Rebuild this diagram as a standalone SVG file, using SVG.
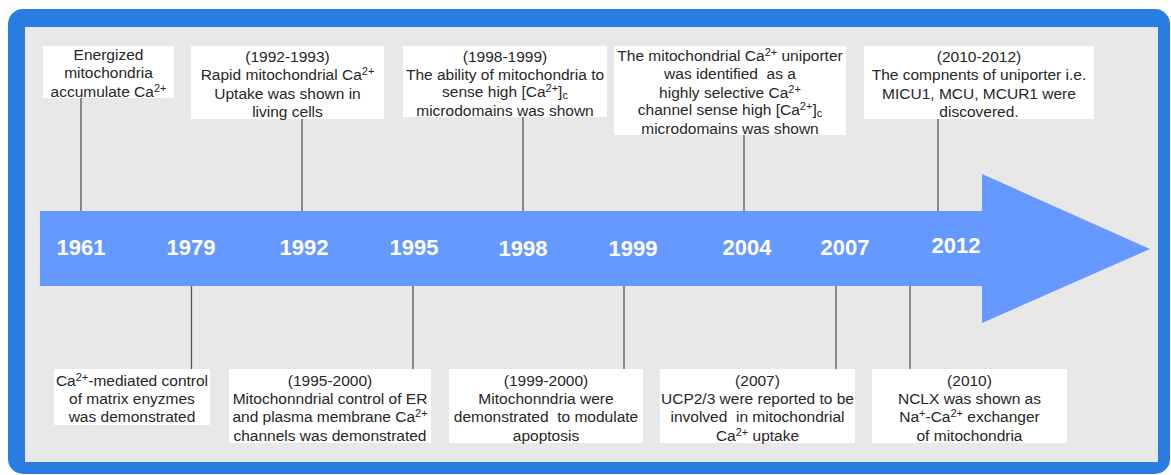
<svg xmlns="http://www.w3.org/2000/svg" width="1171" height="475" viewBox="0 0 1171 475">
<style>
.box{fill:#ffffff}
.t{font-family:"Liberation Sans",Arial,sans-serif;font-size:15.5px;fill:#262626;text-anchor:middle}
.yr{font-family:"Liberation Sans",Arial,sans-serif;font-size:22px;font-weight:bold;fill:#ffffff;text-anchor:middle}
.c{stroke:#555555;stroke-width:1.3;fill:none}
.s{font-size:11px}
</style>
<rect x="8" y="9" width="1162" height="465" rx="15" fill="#2a7de1"/>
<rect x="25" y="27" width="1133" height="435" fill="#e8e8e8"/>
<g id="connectors">
<line class="c" x1="81" y1="98" x2="81" y2="211"/>
<line class="c" x1="302" y1="119" x2="302" y2="211"/>
<line class="c" x1="523" y1="117" x2="523" y2="211"/>
<line class="c" x1="744" y1="135" x2="744" y2="211"/>
<line class="c" x1="938" y1="119" x2="938" y2="211"/>
<line class="c" x1="191.5" y1="286" x2="191.5" y2="369"/>
<line class="c" x1="413" y1="286" x2="413" y2="369"/>
<line class="c" x1="624" y1="286" x2="624" y2="369"/>
<line class="c" x1="836" y1="286" x2="836" y2="369"/>
<line class="c" x1="910" y1="286" x2="910" y2="369"/>
</g>
<g id="timeline">
<polygon points="40,211 982,211 982,174 1150,249 982,323 982,286 40,286" fill="#6699ff"/>
<text class="yr" x="81" y="255">1961</text>
<text class="yr" x="191" y="255">1979</text>
<text class="yr" x="304" y="255">1992</text>
<text class="yr" x="414" y="255">1995</text>
<text class="yr" x="523" y="256">1998</text>
<text class="yr" x="633" y="256">1999</text>
<text class="yr" x="747" y="255">2004</text>
<text class="yr" x="845" y="255">2007</text>
<text class="yr" x="956" y="253">2012</text>
</g>
<g id="n1961">
<rect class="box" x="43" y="46" width="131" height="52"/>
<text class="t" x="108.5" y="59.5">Energized</text>
<text class="t" x="108.5" y="78">mitochondria</text>
<text class="t" x="108.5" y="97">accumulate Ca<tspan class="s" baseline-shift="5">2+</tspan></text>
</g>
<g id="n1992">
<rect class="box" x="191" y="46" width="193" height="73"/>
<text class="t" x="287.5" y="62">(1992-1993)</text>
<text class="t" x="287.5" y="80">Rapid mitochondrial Ca<tspan class="s" baseline-shift="5">2+</tspan></text>
<text class="t" x="287.5" y="99">Uptake was shown in</text>
<text class="t" x="287.5" y="117">living cells</text>
</g>
<g id="n1998">
<rect class="box" x="403" y="46" width="204" height="71"/>
<text class="t" x="505" y="62">(1998-1999)</text>
<text class="t" x="505" y="79.5">The ability of mitochondria to</text>
<text class="t" x="505" y="97">sense high [Ca<tspan class="s" baseline-shift="5">2+</tspan>]<tspan class="s" baseline-shift="-2">c</tspan></text>
<text class="t" x="505" y="115.5">microdomains was shown</text>
</g>
<g id="n2004">
<rect class="box" x="614" y="46" width="232" height="89"/>
<text class="t" x="730" y="60.5">The mitochondrial Ca<tspan class="s" baseline-shift="5">2+</tspan> uniporter</text>
<text class="t" x="730" y="79" xml:space="preserve">was identified  as a</text>
<text class="t" x="730" y="97.5">highly selective Ca<tspan class="s" baseline-shift="5">2+</tspan></text>
<text class="t" x="730" y="114.5">channel sense high [Ca<tspan class="s" baseline-shift="5">2+</tspan>]<tspan class="s" baseline-shift="-2">c</tspan></text>
<text class="t" x="730" y="133.5">microdomains was shown</text>
</g>
<g id="n2012">
<rect class="box" x="864" y="46" width="230" height="73"/>
<text class="t" x="979" y="62">(2010-2012)</text>
<text class="t" x="979" y="80">The compnents of uniporter i.e.</text>
<text class="t" x="979" y="99">MICU1, MCU, MCUR1 were</text>
<text class="t" x="979" y="117">discovered.</text>
</g>
<g id="n1979">
<rect class="box" x="54" y="369" width="156" height="56"/>
<text class="t" x="132" y="385.5">Ca<tspan class="s" baseline-shift="5">2+</tspan>-mediated control</text>
<text class="t" x="132" y="404">of matrix enyzmes</text>
<text class="t" x="132" y="422">was demonstrated</text>
</g>
<g id="n1995">
<rect class="box" x="229" y="369" width="202" height="74"/>
<text class="t" x="330" y="385.5">(1995-2000)</text>
<text class="t" x="330" y="404">Mitochonndrial control of ER</text>
<text class="t" x="330" y="422">and plasma membrane Ca<tspan class="s" baseline-shift="5">2+</tspan></text>
<text class="t" x="330" y="440.5">channels was demonstrated</text>
</g>
<g id="n1999">
<rect class="box" x="449" y="369" width="194" height="74"/>
<text class="t" x="546" y="385.5">(1999-2000)</text>
<text class="t" x="546" y="404">Mitochonndria were</text>
<text class="t" x="546" y="422" xml:space="preserve">demonstrated  to modulate</text>
<text class="t" x="546" y="440.5">apoptosis</text>
</g>
<g id="n2007">
<rect class="box" x="660" y="369" width="195" height="74"/>
<text class="t" x="757.5" y="385.5">(2007)</text>
<text class="t" x="757.5" y="404">UCP2/3 were reported to be</text>
<text class="t" x="757.5" y="422" xml:space="preserve">involved  in mitochondrial</text>
<text class="t" x="757.5" y="440.5">Ca<tspan class="s" baseline-shift="5">2+</tspan> uptake</text>
</g>
<g id="n2010">
<rect class="box" x="872" y="369" width="195" height="74"/>
<text class="t" x="969.5" y="385.5">(2010)</text>
<text class="t" x="969.5" y="404">NCLX was shown as</text>
<text class="t" x="969.5" y="422">Na<tspan class="s" baseline-shift="5">+</tspan>-Ca<tspan class="s" baseline-shift="5">2+</tspan> exchanger</text>
<text class="t" x="969.5" y="440.5">of mitochondria</text>
</g>
</svg>
